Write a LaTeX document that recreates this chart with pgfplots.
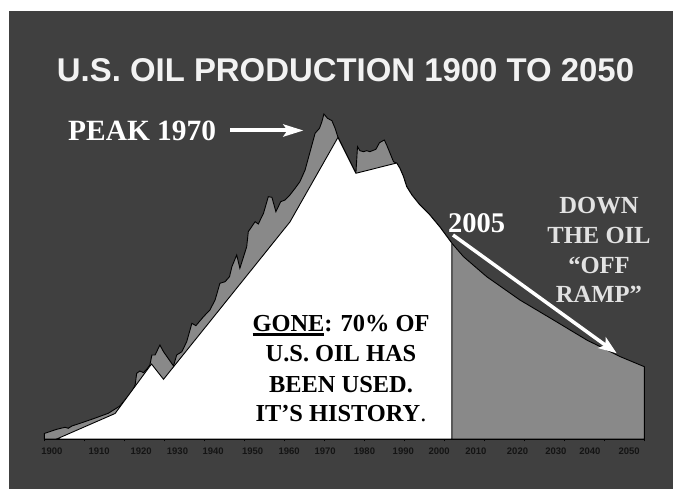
\documentclass[border=0pt]{standalone}
\usepackage{fontspec}
\setmainfont{Liberation Serif}
\setsansfont{Liberation Sans}
\usepackage{pgfplots}
\pgfplotsset{compat=1.18}
\usetikzlibrary{arrows.meta}
\definecolor{bgdark}{RGB}{64,64,64}
\definecolor{oilgrey}{RGB}{137,137,137}
\definecolor{titlewhite}{RGB}{242,242,242}
\definecolor{rampgrey}{RGB}{226,226,226}
\definecolor{ticktext}{RGB}{20,20,20}

% production outline (year, height)
\pgfplotstableread{
year h
1900.0 5.5
1903.1 9.7
1905.2 11.7
1906.0 10.7
1906.9 13.0
1909.4 16.3
1912.3 20.3
1916.0 25.7
1918.9 33.0
1921.9 47.3
1922.7 54.0
1923.1 65.7
1923.9 68.0
1924.8 66.3
1925.6 69.7
1926.4 74.0
1926.9 84.0
1927.7 84.0
1928.9 94.0
1929.8 87.3
1932.3 73.0
1933.1 84.0
1934.4 87.3
1935.6 97.3
1936.9 115.7
1937.9 113.3
1939.8 122.3
1941.4 129.0
1942.7 139.0
1943.9 155.7
1945.2 157.3
1946.3 162.3
1946.9 172.3
1948.1 184.0
1948.9 170.7
1950.6 192.3
1951.0 207.3
1952.7 217.3
1953.5 215.0
1954.8 225.7
1956.0 242.3
1956.9 241.7
1957.9 227.3
1959.1 237.3
1960.2 239.0
1961.4 244.0
1962.7 250.7
1963.9 257.3
1965.2 269.0
1966.9 294.0
1967.7 305.7
1968.8 310.7
1969.4 317.3
1969.9 325.0
1970.8 320.7
1971.9 318.3
1972.7 310.7
1973.4 302.0
1977.9 265.7
1978.3 292.3
1978.9 288.3
1979.8 287.3
1980.6 288.3
1981.4 287.3
1982.9 289.7
1983.8 296.3
1985.0 299.0
1985.6 294.0
1987.3 277.3
1988.1 275.7
1988.9 270.7
1989.8 262.3
1990.6 252.3
1991.9 244.0
1993.9 234.0
1996.4 224.0
1998.9 212.0
2001.9 195.7
2004.8 182.3
2010.6 162.3
2018.9 139.0
2027.3 119.0
2035.6 99.0
2044.0 82.3
2050.0 72.3
}\production

% used-up part
\pgfplotstableread{
year h
1903.1 0
1917.7 25.5
1926.8 75.0
1929.8 59.7
1961.4 217.0
1973.4 301.5
1977.9 265.7
1988.1 276.0
1988.9 270.7
1989.8 262.3
1990.6 252.3
1991.9 244.0
1993.9 234.0
1996.4 224.0
1998.9 212.0
2001.9 195.7
2001.9 0
}\gone

\begin{document}
\begin{tikzpicture}[x=1pt,y=1pt]
\fill[white] (0,0) rectangle (678,489);
\fill[bgdark] (9,0) rectangle (673,478);

\begin{axis}[
    at={(44.3pt,50pt)}, anchor=south west,
    scale only axis, width=600pt, height=330pt,
    xmin=1900, xmax=2050, ymin=0, ymax=330,
    axis x line=bottom, axis y line=none,
    x axis line style={-, black, line width=0.9pt},
    clip=false,
    xtick={1901.9,1913.7,1924.2,1933.3,1942.2,1952.1,1961.2,1970.2,1980.05,1989.75,1998.7,2007.9,2018.3,2027.9,2036.4,2046.2},
    xticklabels={1900,1910,1920,1930,1940,1950,1960,1970,1980,1990,2000,2010,2020,2030,2040,2050},
    major tick length=0pt,
    extra x ticks={1900,1910,...,2050},
    extra x tick labels={},
    extra x tick style={major tick length=5pt, tick align=center, tick style={black, line width=0.8pt}},
    /pgf/number format/assume math mode=true,
    xticklabel style={font=\sffamily\bfseries\fontsize{9.5}{10}\selectfont, text=ticktext, yshift=-5pt},
]
\addplot[fill=oilgrey, draw=black, line width=0.9pt] table[x=year, y=h] {\production} \closedcycle;
\addplot[fill=white, draw=black, line width=0.9pt] table[x=year, y=h] {\gone} \closedcycle;
\end{axis}

\node[anchor=base, text=titlewhite, font=\sffamily\bfseries\fontsize{32.9}{38}\selectfont] at (345.5,407) {U.S. OIL PRODUCTION 1900 TO 2050};

\node[anchor=base west, inner sep=0pt, text=white, font=\bfseries\fontsize{29.4}{34}\selectfont] at (68,348) {PEAK 1970};
\draw[white, line width=4pt, -{Stealth[length=20pt, width=12pt, inset=4pt]}] (230,358.5) -- (303.5,358.5);

\node[anchor=base west, inner sep=0pt, text=white, font=\bfseries\fontsize{28.5}{32}\selectfont] at (448,256) {2005};
\draw[white, line width=3.5pt, -{Stealth[length=18pt, width=13pt, inset=4pt]}] (453,254) -- (616.7,135.7);

\begin{scope}[every node/.style={anchor=base, inner sep=0pt, text=rampgrey, font=\bfseries\fontsize{24.6}{30}\selectfont}]
\node at (599,275.7) {DOWN};
\node at (599,245.7) {THE OIL};
\node at (599,215.7) {“OFF};
\node at (599,186.3) {RAMP”};
\end{scope}

\begin{scope}[every node/.style={anchor=base, inner sep=0pt, text=black, font=\bfseries\fontsize{24.4}{30}\selectfont}]
\node at (341,157.3) {{\setbox0\hbox{GONE}\rlap{\rule[-4pt]{\wd0}{2.3pt}}\box0}: 70\% OF};
\node at (341,127.5) {U.S. OIL HAS};
\node at (341,96.5) {BEEN USED.};
\node at (341,67.3) {IT’S HISTORY{\mdseries .}};
\end{scope}
\end{tikzpicture}
\end{document}
